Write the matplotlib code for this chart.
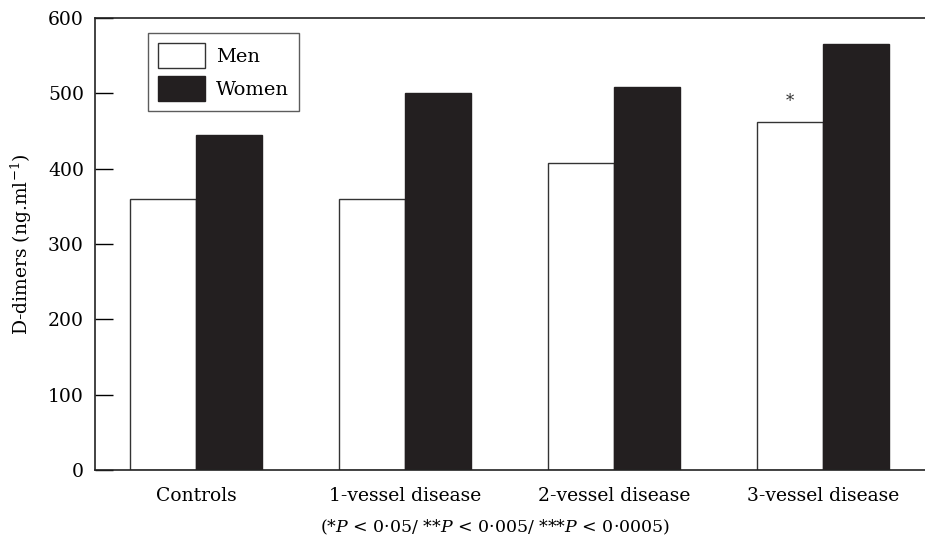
import numpy as np
import matplotlib
matplotlib.use("Agg")
import matplotlib.pyplot as plt
from matplotlib.patches import Patch

plt.rcParams["font.family"] = "DejaVu Serif"
plt.rcParams["mathtext.fontset"] = "dejavuserif"

groups = ["Controls", "1-vessel disease", "2-vessel disease", "3-vessel disease"]
men = [360, 360, 408, 462]
women = [445, 500, 508, 565]
men_sig = ["", "", "", "*"]

dark = "#231f20"
x = np.arange(len(groups))
w = 0.316

fig = plt.figure(figsize=(9.25, 5.46), dpi=100)
ax = fig.add_axes([0.1027, 0.139, 0.8973, 0.828])

ax.bar(x - w / 2, men, w, color="white", edgecolor="#333333", linewidth=1.0)
ax.bar(x + w / 2, women, w, color=dark, edgecolor=dark, linewidth=1.0)

for xi, v, s in zip(x, men, men_sig):
    if s:
        ax.text(xi - w / 2, v + 16, s, ha="center", va="bottom", fontsize=12,
                color="#333333")

ax.set_xlim(-0.483, 3.49)
ax.set_ylim(0, 600)
ax.set_yticks(range(0, 601, 100))
ax.set_xticks(x)
ax.set_xticklabels(groups, fontsize=13.5)
ax.tick_params(axis="x", length=0, pad=12)
ax.tick_params(axis="y", direction="in", length=13, width=1, labelsize=13.5, pad=8)
ax.spines["right"].set_visible(False)
for s in ["left", "bottom", "top"]:
    ax.spines[s].set_linewidth(1.2)
    ax.spines[s].set_color("#222222")

ax.set_ylabel(r"D-dimers (ng.ml$^{-1}$)", fontsize=13.5, labelpad=10)

handles = [Patch(facecolor="white", edgecolor="#333333", label="Men"),
           Patch(facecolor=dark, edgecolor=dark, label="Women")]
leg = ax.legend(handles=handles, loc="upper left", bbox_to_anchor=(0.064, 0.967),
                borderaxespad=0, fontsize=14, fancybox=False, edgecolor="#333333",
                handlelength=2.4, handleheight=1.6, borderpad=0.5,
                labelspacing=0.45, handletextpad=0.6)
leg.get_frame().set_linewidth(1.0)

fig.text(0.535, 0.035,
         r"(*$P$ < 0·05/ **$P$ < 0·005/ ***$P$ < 0·0005)",
         ha="center", va="center", fontsize=12.5)

fig.savefig("out.png", dpi=100)
